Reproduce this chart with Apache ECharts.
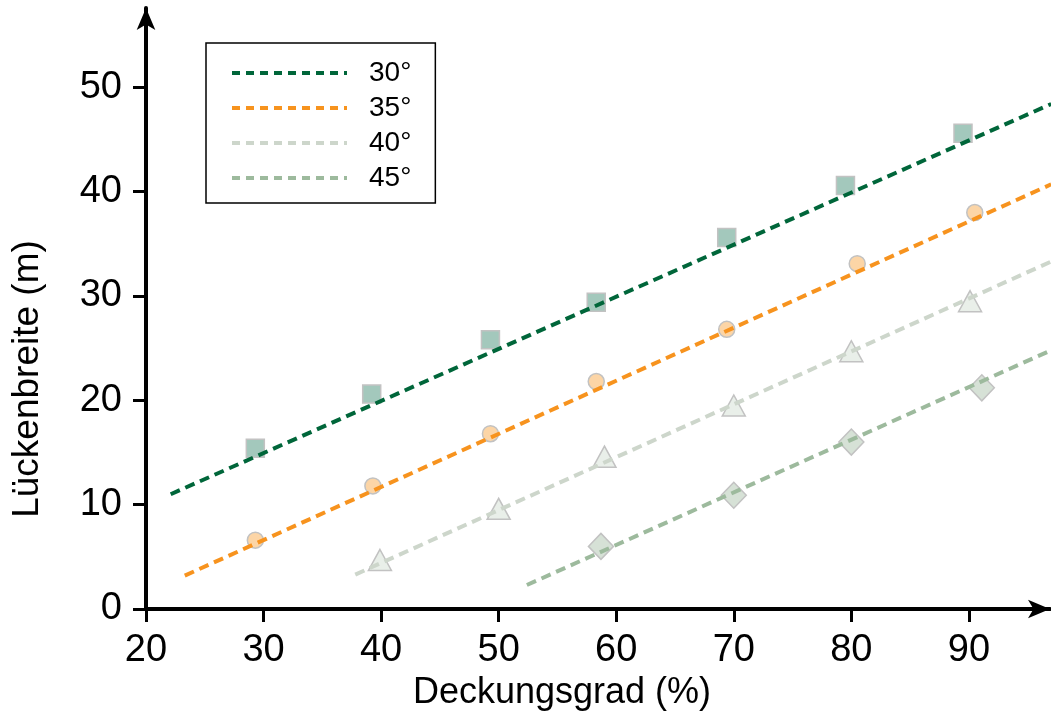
<!DOCTYPE html>
<html>
<head>
<meta charset="utf-8">
<title>Lückenbreite</title>
<script src="https://cdn.jsdelivr.net/npm/echarts@6/dist/echarts.min.js"></script>
<style>
  html, body { margin: 0; padding: 0; background: #fff; }
  #chart { width: 1051px; height: 720px; }
</style>
</head>
<body>
<div id="chart"></div>
<script>
// Werte
var xTicks = [20, 30, 40, 50, 60, 70, 80, 90]
var yTicks = [0, 10, 20, 30, 40, 50]
var names = ['30°', '35°', '40°', '45°']

var pts30 = [[29.3, 15.4], [39.2, 20.6], [49.3, 25.8], [58.3, 29.4], [69.4, 35.6], [79.5, 40.6], [89.5, 45.6]]
var pts35 = [[29.3, 6.6], [39.3, 11.8], [49.3, 16.8], [58.3, 21.8], [69.4, 26.8], [80.5, 33.1], [90.5, 38.0]]
var pts40 = [[39.9, 4.7], [50.0, 9.6], [59.0, 14.6], [70.0, 19.5], [80.0, 24.7], [90.1, 29.5]]
var pts45 = [[58.7, 6.0], [70.0, 10.9], [80.0, 16.0], [91.1, 21.2]]

// Trendlinien (Anfang, Ende)
var trend30 = [[22.1, 11.0], [97, 48.4]]
var trend35 = [[23.3, 3.2], [97, 40.7]]
var trend40 = [[37.8, 3.3], [97, 33.3]]
var trend45 = [[52.4, 2.3], [97, 24.8]]

var font = '"Liberation Sans", Arial, sans-serif'
var lineColors = ['#00663a', '#f7931e', '#cdd6cb', '#9dba9d']

function trendSeries(name, data, color) {
  return {
    name: name,
    type: 'line',
    data: data,
    symbol: 'none',
    clip: false,
    z: 3,
    lineStyle: { color: color, width: 4, type: [10, 6] },
    itemStyle: { color: color }
  }
}

function pointSeries(name, data, symbol, size, fill) {
  return {
    name: name,
    type: 'scatter',
    data: data,
    symbol: symbol,
    symbolSize: size,
    z: 2,
    itemStyle: { color: fill, borderColor: '#c2c2c2', borderWidth: 1.5, opacity: 1 }
  }
}

var chart = echarts.init(document.getElementById('chart'))
chart.setOption({
  animation: false,
  textStyle: { fontFamily: font },
  grid: { left: 146, right: 1, top: 8, bottom: 111 },
  legend: {
    data: names,
    orient: 'vertical',
    left: 206,
    top: 43,
    padding: [16, 24, 11, 24],
    itemWidth: 115,
    itemHeight: 20,
    itemGap: 7,
    borderColor: '#000',
    borderWidth: 1.5,
    borderRadius: 0,
    backgroundColor: '#fff',
    selectedMode: false,
    itemStyle: { opacity: 0 },
    lineStyle: { width: 4, type: [8, 6] },
    textStyle: { fontSize: 28, color: '#000', fontFamily: font, lineHeight: 28, padding: [0, 0, 0, 17] }
  },
  xAxis: {
    type: 'value',
    min: 20,
    max: 96.9,
    splitLine: { show: false },
    axisLine: { lineStyle: { color: '#000', width: 4 }, symbol: ['none', 'arrow'], symbolSize: [14, 22] },
    axisTick: { customValues: xTicks, length: 13, lineStyle: { color: '#000', width: 3 } },
    axisLabel: { customValues: xTicks, fontSize: 38, color: '#000', margin: 23 }
  },
  yAxis: {
    type: 'value',
    min: 0,
    max: 57.6,
    splitLine: { show: false },
    axisLine: { lineStyle: { color: '#000', width: 4 }, symbol: ['none', 'arrow'], symbolSize: [14, 22] },
    axisTick: { customValues: yTicks, length: 13, lineStyle: { color: '#000', width: 3 } },
    axisLabel: { customValues: yTicks, fontSize: 38, color: '#000', margin: 24 }
  },
  graphic: [
    {
      type: 'text',
      x: 562, y: 693,
      style: { text: 'Deckungsgrad (%)', font: '36px ' + font, fill: '#000', textAlign: 'center', textVerticalAlign: 'middle' }
    },
    {
      type: 'text',
      x: 28, y: 379,
      rotation: Math.PI / 2,
      style: { text: 'Lückenbreite (m)', font: '37px ' + font, fill: '#000', textAlign: 'center', textVerticalAlign: 'middle' }
    }
  ],
  series: [
    pointSeries('p30', pts30, 'rect', 18, '#a3c8bc'),
    pointSeries('p35', pts35, 'circle', 16, '#fcd5a6'),
    pointSeries('p40', pts40, 'triangle', [23, 21], '#e9efe9'),
    pointSeries('p45', pts45, 'diamond', [25, 26], '#d6e1d6'),
    trendSeries(names[0], trend30, lineColors[0]),
    trendSeries(names[1], trend35, lineColors[1]),
    trendSeries(names[2], trend40, lineColors[2]),
    trendSeries(names[3], trend45, lineColors[3])
  ]
})
</script>
</body>
</html>
